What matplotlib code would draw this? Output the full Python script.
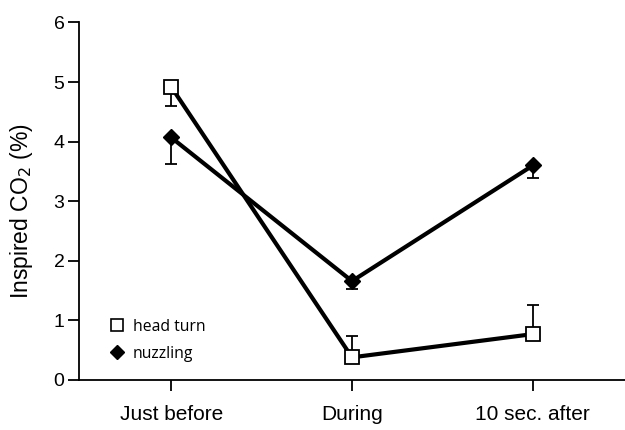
import matplotlib
matplotlib.use("Agg")
import matplotlib.pyplot as plt
from matplotlib.lines import Line2D

plt.rcParams['font.family'] = ['Liberation Sans', 'DejaVu Sans']

categories = ["Just before", "During", "10 sec. after"]
head_turn = [4.92, 0.38, 0.77]
head_turn_err_low = [0.32, 0.0, 0.0]
head_turn_err_high = [0.0, 0.36, 0.49]
nuzzling = [4.07, 1.66, 3.60]
nuzzling_err_low = [0.45, 0.13, 0.21]
nuzzling_err_high = [0.0, 0.0, 0.0]
yticks = [0, 1, 2, 3, 4, 5, 6]

fig = plt.figure(figsize=(6.25, 4.3), dpi=100)
ax = fig.add_axes([0.1264, 0.1163, 0.8736, 0.8314])

x = list(range(len(categories)))

ax.errorbar(x, head_turn, yerr=[head_turn_err_low, head_turn_err_high], fmt='none',
            ecolor='black', elinewidth=1.3, capsize=4.5, capthick=1.3, zorder=2)
ax.errorbar(x, nuzzling, yerr=[nuzzling_err_low, nuzzling_err_high], fmt='none',
            ecolor='black', elinewidth=1.3, capsize=4.5, capthick=1.3, zorder=2)

ax.plot(x, head_turn, color='black', linewidth=3.0, zorder=3)
ax.plot(x, nuzzling, color='black', linewidth=3.0, zorder=3)
ax.plot(x, head_turn, linestyle='none', marker='s', markersize=9.5,
        markerfacecolor='white', markeredgecolor='black', markeredgewidth=1.3, zorder=4)
ax.plot(x, nuzzling, linestyle='none', marker='D', markersize=8.5,
        markerfacecolor='black', markeredgecolor='black', markeredgewidth=1.0, zorder=4)

ax.set_xlim(-0.51, 2.51)
ax.set_ylim(0, 6)
ax.set_xticks(x)
ax.set_xticklabels(categories, fontsize=15)
ax.set_yticks(yticks)
ax.set_yticklabels([str(t) for t in yticks], fontsize=14)
ax.set_ylabel("Inspired CO$_2$ (%)", fontsize=16.5)
ax.yaxis.set_label_coords(-0.08, 0.473)

for s in ['top', 'right']:
    ax.spines[s].set_visible(False)
for s in ['left', 'bottom']:
    ax.spines[s].set_linewidth(1.3)
ax.tick_params(axis='both', direction='out', length=8, width=1.3)
ax.tick_params(axis='y', pad=2.5)
ax.tick_params(axis='x', pad=10)

handles = [
    Line2D([], [], linestyle='none', marker='s', markersize=8, markerfacecolor='white',
           markeredgecolor='black', markeredgewidth=1.2, label='head turn'),
    Line2D([], [], linestyle='none', marker='D', markersize=7.5, markerfacecolor='black',
           markeredgecolor='black', label='nuzzling'),
]
ax.legend(handles=handles, loc='lower left', bbox_to_anchor=(0.033, 0.012), frameon=False,
          handlelength=0.8, handletextpad=0.6, labelspacing=0.68,
          prop={'family': ['Open Sans', 'DejaVu Sans'], 'size': 11.3})

fig.savefig("out.png", dpi=100)
